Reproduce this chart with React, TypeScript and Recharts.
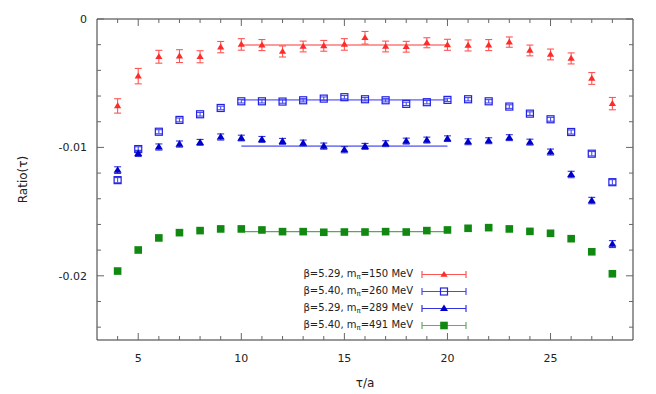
import React from "react";
import { ComposedChart, Scatter, XAxis, YAxis, ErrorBar, ReferenceLine, Legend } from "recharts";

// tau/a positions
const TAU = [4, 5, 6, 7, 8, 9, 10, 11, 12, 13, 14, 15, 16, 17, 18, 19, 20, 21, 22, 23, 24, 25, 26, 27, 28];

// beta=5.29, m_pi=150 MeV
const R150 = [-0.00677, -0.00445, -0.00294, -0.00289, -0.00294, -0.00219, -0.00198, -0.00203, -0.00253, -0.00214, -0.00209, -0.00198, -0.00146, -0.00214, -0.00216, -0.00185, -0.00201, -0.00206, -0.00203, -0.0018, -0.00245, -0.00276, -0.00307, -0.00463, -0.00659];
const E150 = [0.00056, 0.0006, 0.0005, 0.0005, 0.00047, 0.00044, 0.00045, 0.00043, 0.00043, 0.00042, 0.00042, 0.00045, 0.00049, 0.00042, 0.00042, 0.00039, 0.00043, 0.00043, 0.00043, 0.0004, 0.00042, 0.00042, 0.00043, 0.00046, 0.00048];

// beta=5.40, m_pi=260 MeV
const R260 = [-0.01255, -0.01013, -0.00878, -0.00786, -0.00742, -0.00693, -0.00641, -0.00641, -0.00643, -0.00633, -0.0062, -0.00609, -0.00625, -0.00633, -0.00661, -0.00648, -0.0063, -0.00625, -0.00641, -0.00682, -0.00737, -0.00781, -0.0088, -0.01049, -0.01271];
const E260 = [0.0002, 0.00018, 0.00016, 0.00015, 0.00014, 0.00014, 0.00013, 0.00013, 0.00013, 0.00013, 0.00013, 0.00013, 0.00013, 0.00013, 0.00013, 0.00013, 0.00013, 0.00013, 0.00013, 0.00014, 0.00014, 0.00015, 0.00016, 0.00017, 0.0002];

// beta=5.29, m_pi=289 MeV
const R289 = [-0.01177, -0.01047, -0.00997, -0.00974, -0.00961, -0.00919, -0.00927, -0.00938, -0.00953, -0.00966, -0.0099, -0.01018, -0.00992, -0.00971, -0.00951, -0.00943, -0.00932, -0.00956, -0.00948, -0.00924, -0.00959, -0.01036, -0.01211, -0.01414, -0.01753];
const E289 = [0.00026, 0.00024, 0.00024, 0.00024, 0.00023, 0.00024, 0.00022, 0.00023, 0.00023, 0.00023, 0.00024, 0.00024, 0.00023, 0.00023, 0.00023, 0.00023, 0.00022, 0.00023, 0.00023, 0.00023, 0.00023, 0.00023, 0.00025, 0.00025, 0.00027];

// beta=5.40, m_pi=491 MeV
const R491 = [-0.01963, -0.01799, -0.01705, -0.01664, -0.01648, -0.01635, -0.01635, -0.01643, -0.01656, -0.01656, -0.01661, -0.01659, -0.01659, -0.01656, -0.01659, -0.01648, -0.01643, -0.0163, -0.01625, -0.01635, -0.01654, -0.01669, -0.01711, -0.01813, -0.01984];
const E491 = [0.00008, 0.00007, 0.00006, 0.00006, 0.00006, 0.00006, 0.00006, 0.00006, 0.00006, 0.00006, 0.00006, 0.00006, 0.00006, 0.00006, 0.00006, 0.00006, 0.00006, 0.00006, 0.00006, 0.00006, 0.00006, 0.00006, 0.00006, 0.00007, 0.00008];

// plateau fits
const FIT_RANGE = [10, 20];
const FIT = [-0.00203, -0.0063, -0.0099, -0.01656];

const LABELS = [
  ["β=5.29, m", "π", "=150 MeV"],
  ["β=5.40, m", "π", "=260 MeV"],
  ["β=5.29, m", "π", "=289 MeV"],
  ["β=5.40, m", "π", "=491 MeV"],
];

const X_TICKS = TAU;
const Y_TICKS = [0, -0.002, -0.004, -0.006, -0.008, -0.01, -0.012, -0.014, -0.016, -0.018, -0.02, -0.022, -0.024];

const W = 656;
const H = 394;
const MARGIN = { top: 19, right: 23, bottom: 24, left: 37 };
const Y_W = 60;
const X_H = 30;
const PLOT_W = W - MARGIN.left - Y_W - MARGIN.right;
const PLOT_H = H - MARGIN.top - MARGIN.bottom - X_H;
const FONT = "DejaVu Sans";
const TICK = "#666";
const BORDER = "#333";

const rows = (ys: number[], es: number[]) => TAU.map((t, i) => ({ x: t, y: ys[i], err: es[i] }));

const Triangle = ({ cx, cy, fill, s = 4 }: any) => (
  <polygon points={`${cx},${cy - s} ${cx - s},${cy + s * 0.65} ${cx + s},${cy + s * 0.65}`} fill={fill} />
);
const OpenSquare = ({ cx, cy, stroke }: any) => (
  <rect x={cx - 3.5} y={cy - 3.5} width={7} height={7} fill="none" stroke={stroke} strokeWidth={1.2} />
);
const FilledSquare = ({ cx, cy, fill }: any) => (
  <rect x={cx - 3.8} y={cy - 3.8} width={7.6} height={7.6} fill={fill} />
);

// cap is the half-width of the error-bar caps
const SERIES = [
  { name: "150", data: rows(R150, E150), color: "#ff2a2a", bar: "#ff5555", fit: "#ff9a9a", fitW: 2, cap: 3.5, shape: (p: any) => <Triangle {...p} fill="#ff2a2a" s={3.6} /> },
  { name: "260", data: rows(R260, E260), color: "#2222e6", bar: "#4a4af0", fit: "#8888ff", fitW: 1.6, cap: 3.5, shape: (p: any) => <OpenSquare {...p} stroke="#2222e6" /> },
  { name: "289", data: rows(R289, E289), color: "#0000cc", bar: "#3333dd", fit: "#8080f5", fitW: 1.6, cap: 3.5, shape: (p: any) => <Triangle {...p} fill="#0000cc" s={4} /> },
  { name: "491", data: rows(R491, E491), color: "#118811", bar: "#66aa66", fit: "#55aa55", fitW: 1.2, cap: 2, shape: (p: any) => <FilledSquare {...p} fill="#118811" /> },
];

const XTick = (p: any) => {
  const { x, y, payload } = p;
  const v = payload.value;
  const major = v % 5 === 0;
  const len = major ? 7 : 4;
  return (
    <g>
      <line x1={x} x2={x} y1={y} y2={y - len} stroke={TICK} />
      <line x1={x} x2={x} y1={y - PLOT_H} y2={y - PLOT_H + len} stroke={TICK} />
      {major && (
        <text x={x} y={y + 22} textAnchor="middle" fontFamily={FONT} fontSize={11} fill="#222">
          {v}
        </text>
      )}
    </g>
  );
};

const YTick = (p: any) => {
  const { x, y, payload } = p;
  const v = payload.value;
  const major = Math.abs(v * 100 - Math.round(v * 100)) < 1e-9;
  const len = major ? 7 : 4;
  return (
    <g>
      <line x1={x} x2={x + len} y1={y} y2={y} stroke={TICK} />
      <line x1={x + PLOT_W} x2={x + PLOT_W - len} y1={y} y2={y} stroke={TICK} />
      {major && (
        <text x={x - 10} y={y + 4} textAnchor="end" fontFamily={FONT} fontSize={11} fill="#222">
          {v === 0 ? "0" : v.toFixed(2)}
        </text>
      )}
    </g>
  );
};

const LegendSymbol = ({ s }: any) => (
  <svg width={50} height={17} style={{ display: "block" }}>
    <line x1={1} x2={45} y1={8.5} y2={8.5} stroke={s.bar} strokeWidth={1.2} />
    <line x1={1} x2={1} y1={5} y2={12} stroke={s.bar} strokeWidth={1.2} />
    <line x1={45} x2={45} y1={5} y2={12} stroke={s.bar} strokeWidth={1.2} />
    {s.shape({ cx: 23, cy: 8.5 })}
  </svg>
);

const renderLegend = () => (
  <div style={{ fontFamily: FONT, fontSize: 10, color: "#222" }}>
    {SERIES.map((s, i) => (
      <div key={s.name} style={{ display: "flex", alignItems: "center", height: 17 }}>
        <div style={{ width: 123, textAlign: "right", whiteSpace: "nowrap", lineHeight: "17px" }}>
          {LABELS[i][0]}
          <span style={{ fontSize: 7, position: "relative", top: 2 }}>{LABELS[i][1]}</span>
          {LABELS[i][2]}
        </div>
        <div style={{ marginLeft: 8 }}>
          <LegendSymbol s={s} />
        </div>
      </div>
    ))}
  </div>
);

export default function App() {
  return (
    <div style={{ position: "absolute", left: 0, top: 0, background: "#fff" }}>
      <ComposedChart width={W} height={H} margin={MARGIN}>
        <XAxis
          type="number"
          dataKey="x"
          domain={[3, 29]}
          ticks={X_TICKS}
          interval={0}
          tickLine={false}
          tickSize={0}
          tickMargin={0}
          tick={<XTick />}
          height={X_H}
          axisLine={{ stroke: BORDER }}
          allowDataOverflow
          label={{ value: "τ/a", position: "bottom", offset: 8, fontFamily: FONT, fontSize: 12, fill: "#222" }}
        />
        <YAxis
          type="number"
          dataKey="y"
          domain={[-0.025, 0]}
          ticks={Y_TICKS}
          interval={0}
          tickLine={false}
          tickSize={0}
          tickMargin={0}
          tick={<YTick />}
          width={Y_W}
          axisLine={{ stroke: BORDER }}
          allowDataOverflow
          label={(props: any) => {
            const vb = props.viewBox;
            const cy = vb.y + vb.height / 2;
            return (
              <text x={23} y={cy} transform={`rotate(-90 23 ${cy})`} textAnchor="middle" dominantBaseline="central" fontFamily={FONT} fontSize={12} fill="#222">
                Ratio(τ)
              </text>
            );
          }}
        />
        <ReferenceLine y={0} stroke={BORDER} ifOverflow="visible" />
        <ReferenceLine x={29} stroke={BORDER} ifOverflow="visible" />
        {SERIES.map((s, i) => (
          <ReferenceLine
            key={"fit" + s.name}
            segment={[{ x: FIT_RANGE[0], y: FIT[i] }, { x: FIT_RANGE[1], y: FIT[i] }]}
            stroke={s.fit}
            strokeWidth={s.fitW}
          />
        ))}
        {SERIES.map((s) => (
          <Scatter key={s.name} name={s.name} data={s.data} shape={s.shape} isAnimationActive={false}>
            <ErrorBar dataKey="err" direction="y" width={s.cap} stroke={s.bar} strokeWidth={1.1} />
          </Scatter>
        ))}
        <Legend
          layout="vertical"
          align="center"
          verticalAlign="middle"
          content={renderLegend}
          wrapperStyle={{ left: 290, top: 265.5, width: 190, height: 70 }}
        />
      </ComposedChart>
    </div>
  );
}
